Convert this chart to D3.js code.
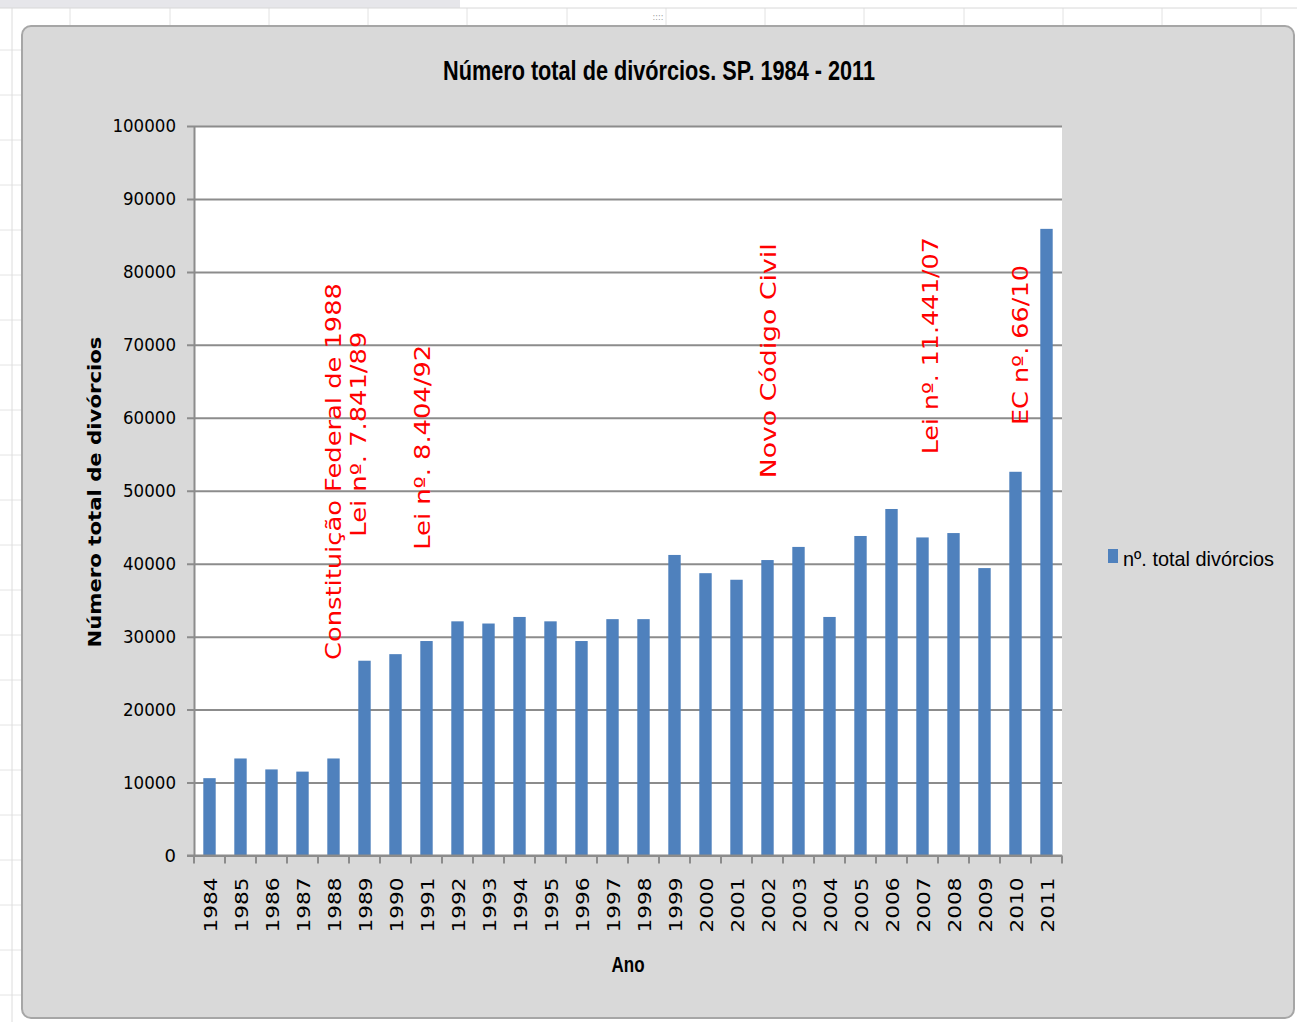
<!DOCTYPE html>
<html>
<head>
<meta charset="utf-8">
<script src="https://cdn.jsdelivr.net/npm/d3@7"></script>
<style>
  body { margin: 0; background: #fff; }
  svg { display: block; }
</style>
</head>
<body>
<div id="chart"></div>
<script>
// data
const years = [1984, 1985, 1986, 1987, 1988, 1989, 1990, 1991, 1992, 1993, 1994, 1995, 1996, 1997,
  1998, 1999, 2000, 2001, 2002, 2003, 2004, 2005, 2006, 2007, 2008, 2009, 2010, 2011];
const divorces = [10600, 13300, 11800, 11500, 13300, 26700, 27600, 29400, 32100, 31800, 32700, 32100, 29400, 32400,
  32400, 41200, 38700, 37800, 40500, 42300, 32700, 43800, 47500, 43600, 44200, 39400, 52600, 85900];
const yTicks = [0, 10000, 20000, 30000, 40000, 50000, 60000, 70000, 80000, 90000, 100000];

// law notes: where they sit (year position) and where the text starts (value)
const noteText = ["Constituição Federal de 1988", "Lei nº. 7.841/89", "Lei nº. 8.404/92",
  "Novo Código Civil", "Lei nº. 11.441/07", "EC nº. 66/10"];
const noteYear = [1988, 1988.8, 1990.87, 2002.03, 2007.27, 2010.15];
const noteFrom = [26800, 43700, 41900, 51700, 55000, 59000];
const noteLen = [377, 205, 205, 235, 217, 160];

const W = 1297, H = 1022;
const plot = { left: 194, right: 1062, top: 126, bottom: 855.5 };

const svg = d3.select("#chart").append("svg")
  .attr("width", W)
  .attr("height", H);

// spreadsheet behind the chart
svg.append("rect").attr("width", W).attr("height", H).attr("fill", "#ffffff");
svg.append("rect").attr("x", 0).attr("y", 0).attr("width", 460).attr("height", 8).attr("fill", "#e6e6ea");
const colLines = [70, 170, 269, 368, 467, 567, 666, 765, 864, 964, 1063, 1162, 1261];
svg.selectAll(".col").data(colLines).enter().append("line")
  .attr("x1", d => d).attr("x2", d => d).attr("y1", 8).attr("y2", 26)
  .attr("stroke", "#e2e2e2");
const rowLines = d3.range(50, 1022, 45);
svg.selectAll(".row").data(rowLines).enter().append("line")
  .attr("x1", 0).attr("x2", 22).attr("y1", d => d).attr("y2", d => d)
  .attr("stroke", "#e4e4e4");
svg.append("line").attr("x1", 12).attr("x2", 12).attr("y1", 8).attr("y2", 1022).attr("stroke", "#dcdcdc");
svg.append("line").attr("x1", 0).attr("x2", W).attr("y1", 8).attr("y2", 8).attr("stroke", "#d8d8d8");

// chart panel
svg.append("rect")
  .attr("x", 22).attr("y", 26)
  .attr("width", 1272).attr("height", 992)
  .attr("rx", 9)
  .attr("fill", "#d9d9d9")
  .attr("stroke", "#a6a6a6")
  .attr("stroke-width", 2);
svg.append("text").attr("x", 658).attr("y", 20).attr("text-anchor", "middle")
  .attr("font-family", "DejaVu Sans").attr("font-size", 8).attr("fill", "#999").text("::::");

// plot area
svg.append("rect")
  .attr("x", plot.left).attr("y", plot.top)
  .attr("width", plot.right - plot.left).attr("height", plot.bottom - plot.top)
  .attr("fill", "#ffffff");

const x = d3.scaleBand()
  .domain(years)
  .range([plot.left, plot.right])
  .paddingInner(0.6)
  .paddingOuter(0.3);

const y = d3.scaleLinear()
  .domain([0, 100000])
  .range([plot.bottom, plot.top]);

// gridlines + y axis
const yAxis = d3.axisLeft(y)
  .tickValues(yTicks)
  .tickSize(-(plot.right - plot.left))
  .tickSizeOuter(0)
  .tickPadding(18)
  .tickFormat(d3.format("d"));

const gy = svg.append("g")
  .attr("transform", `translate(${plot.left},0)`)
  .call(yAxis);
gy.select(".domain").attr("stroke", "#8c8c8c").attr("stroke-width", 2);
gy.selectAll(".tick line")
  .attr("x1", -7)
  .attr("stroke", "#8c8c8c")
  .attr("stroke-width", 2);
gy.selectAll(".tick text")
  .attr("font-family", "DejaVu Sans, Tahoma, sans-serif")
  .attr("font-size", 18)
  .attr("textLength", d => d === 0 ? null : (String(d).length * 10.6))
  .attr("lengthAdjust", "spacingAndGlyphs")
  .attr("fill", "#000");

// bars
svg.selectAll(".bar")
  .data(years)
  .enter()
  .append("rect")
  .attr("class", "bar")
  .attr("x", d => x(d))
  .attr("width", x.bandwidth())
  .attr("y", (d, i) => y(divorces[i]))
  .attr("height", (d, i) => y(0) - y(divorces[i]))
  .attr("fill", "#4f81bd");

// x axis with ticks between categories
const step = x.step();
const x0 = plot.left;
svg.append("line")
  .attr("x1", plot.left - 7).attr("x2", plot.right)
  .attr("y1", y(0)).attr("y2", y(0))
  .attr("stroke", "#8c8c8c").attr("stroke-width", 2);
svg.selectAll(".xtick")
  .data(d3.range(years.length + 1))
  .enter()
  .append("line")
  .attr("x1", i => x0 + i * step).attr("x2", i => x0 + i * step)
  .attr("y1", y(0)).attr("y2", y(0) + 8)
  .attr("stroke", "#8c8c8c").attr("stroke-width", 2);

svg.selectAll(".xlabel")
  .data(years)
  .enter()
  .append("text")
  .attr("transform", d => `translate(${x(d) + x.bandwidth() / 2 + 1},${y(0) + 22}) rotate(-90)`)
  .attr("text-anchor", "end")
  .attr("dy", "0.36em")
  .attr("font-family", "DejaVu Sans, Verdana, sans-serif")
  .attr("font-size", 17)
  .attr("textLength", 55)
  .attr("lengthAdjust", "spacingAndGlyphs")
  .attr("fill", "#000")
  .text(d => d);

// law notes
const notePos = v => x0 + x.paddingOuter() * step + (v - years[0]) * step + x.bandwidth() / 2;
svg.selectAll(".note")
  .data(noteText)
  .enter()
  .append("text")
  .attr("transform", (d, i) => `translate(${notePos(noteYear[i])},${y(noteFrom[i])}) rotate(-90)`)
  .attr("text-anchor", "start")
  .attr("dy", "0.36em")
  .attr("font-family", "DejaVu Sans, Verdana, sans-serif")
  .attr("font-size", 21)
  .attr("textLength", (d, i) => noteLen[i])
  .attr("lengthAdjust", "spacingAndGlyphs")
  .attr("fill", "#ff0000")
  .text(d => d);

// titles
svg.append("text")
  .attr("x", 659).attr("y", 80)
  .attr("text-anchor", "middle")
  .attr("font-family", "Liberation Sans Narrow, Arial Narrow, Liberation Sans, sans-serif")
  .attr("font-weight", "bold")
  .attr("font-size", 27)
  .attr("textLength", 432)
  .attr("lengthAdjust", "spacingAndGlyphs")
  .attr("fill", "#000")
  .text("Número total de divórcios. SP. 1984 - 2011");

svg.append("text")
  .attr("transform", "translate(95,492) rotate(-90)")
  .attr("text-anchor", "middle")
  .attr("dy", "0.36em")
  .attr("font-family", "DejaVu Sans, Verdana, sans-serif")
  .attr("font-weight", "bold")
  .attr("font-size", 17)
  .attr("textLength", 311)
  .attr("lengthAdjust", "spacingAndGlyphs")
  .attr("fill", "#000")
  .text("Número total de divórcios");

svg.append("text")
  .attr("x", 628).attr("y", 972)
  .attr("text-anchor", "middle")
  .attr("font-family", "Liberation Sans Narrow, Arial Narrow, Liberation Sans, sans-serif")
  .attr("font-weight", "bold")
  .attr("font-size", 22)
  .attr("textLength", 33)
  .attr("lengthAdjust", "spacingAndGlyphs")
  .attr("fill", "#000")
  .text("Ano");

// legend
svg.append("rect")
  .attr("x", 1108).attr("y", 549)
  .attr("width", 10).attr("height", 14)
  .attr("fill", "#4f81bd");
svg.append("text")
  .attr("x", 1123).attr("y", 566)
  .attr("font-family", "Liberation Sans Narrow, Arial Narrow, Liberation Sans, sans-serif")
  .attr("font-size", 21)
  .attr("textLength", 151)
  .attr("lengthAdjust", "spacingAndGlyphs")
  .attr("fill", "#000")
  .text("nº. total divórcios");
</script>
</body>
</html>
